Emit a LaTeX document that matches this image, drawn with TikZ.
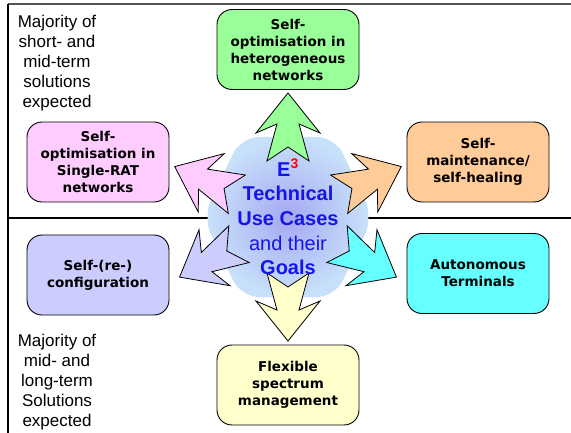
\documentclass[tikz,border=0pt]{standalone}
\usepackage{fontspec}
\setmainfont{Liberation Sans}
\newfontfamily\boxfont{DejaVu Sans}
\definecolor{gcase}{RGB}{153,255,153}
\definecolor{pcase}{RGB}{255,204,255}
\definecolor{ocase}{RGB}{255,204,153}
\definecolor{lcase}{RGB}{204,204,255}
\definecolor{ccase}{RGB}{102,255,255}
\definecolor{ycase}{RGB}{255,255,204}
\definecolor{hexout}{RGB}{200,225,250}
\definecolor{hexin}{RGB}{165,168,242}
\definecolor{titleblue}{RGB}{20,20,235}
\definecolor{rulegray}{RGB}{85,85,85}
\newcommand\petal[2]{%
  \draw[petal, fill=#2, shift={(hub)}, rotate=#1]
    (124,0) -- (84,32) -- (93,11) -- (56,21) -- (70,0)
    -- (56,-21) -- (93,-11) -- (84,-32) -- cycle;}
\begin{document}
\begin{tikzpicture}[x=1pt,y=-1pt,
  tile/.style={draw=black, line width=0.9pt, rounded corners=15pt,
    minimum width=142pt, minimum height=80pt, inner sep=0pt, align=center,
    font=\boxfont\bfseries\fontsize{13.5}{17}\selectfont},
  petal/.style={draw=black, line width=0.8pt, line join=miter},
  note/.style={align=center, font=\fontsize{17}{20}\selectfont}]
\useasboundingbox (0,0) rectangle (571,433);

% frame lines
\coordinate (tl) at (8,4);
\coordinate (tr) at (571,4);
\coordinate (bl) at (8,433);
\coordinate (ml) at (8,218);
\coordinate (mr) at (571,218);
\draw[rulegray, line width=2pt] (tl) -- (tr);
\draw[black, line width=1.3pt] (tl) -- (bl);
\draw[black, line width=1.5pt] (ml) -- (mr);

% central hexagon with radial glow
\coordinate (hub) at (288,217);
\fill[hexout, rounded corners=18pt, shift={(hub)}]
  (-85,0) -- (-47,-80) -- (47,-80) -- (85,0) -- (47,80) -- (-47,80) -- cycle;
\begin{scope}
  \clip[rounded corners=18pt, shift={(hub)}]
    (-85,0) -- (-47,-80) -- (47,-80) -- (85,0) -- (47,80) -- (-47,80) -- cycle;
  \shade[inner color=hexin, outer color=hexout] (hub) circle[radius=80pt];
\end{scope}

% arrows radiating from the hub
\petal{90}{gcase}
\petal{156}{pcase}
\petal{24}{ocase}
\petal{209}{lcase}
\petal{331}{ccase}
\petal{270}{ycase}

% title
\node[text=titleblue, align=center, inner sep=0pt,
  font=\bfseries\fontsize{20}{24.7}\selectfont] (title) at (hub)
  {E\textsuperscript{\color{red}3}\\Technical\\Use Cases\\{\mdseries and their}\\Goals};

% use case boxes
\node[tile, fill=gcase] (hetero) at (288,49.5) {Self-\\optimisation in\\heterogeneous\\networks};
\node[tile, fill=pcase] (single) at (98,162) {Self-\\optimisation in\\Single-RAT\\networks};
\node[tile, fill=ocase] (maint) at (478,162) {Self-\\maintenance/\\self-healing};
\node[tile, fill=lcase] (config) at (98,275) {Self-(re-)\\configuration};
\node[tile, fill=ccase] (terminals) at (478,273.5) {Autonomous\\Terminals};
\node[tile, fill=ycase] (spectrum) at (288,385) {Flexible\\spectrum\\management};

% horizon notes
\node[note] (upper) at (57,63) {Majority of\\short- and\\mid-term\\solutions\\expected};
\node[note] (lower) at (57,382) {Majority of\\mid- and\\long-term\\Solutions\\expected};
\end{tikzpicture}
\end{document}
